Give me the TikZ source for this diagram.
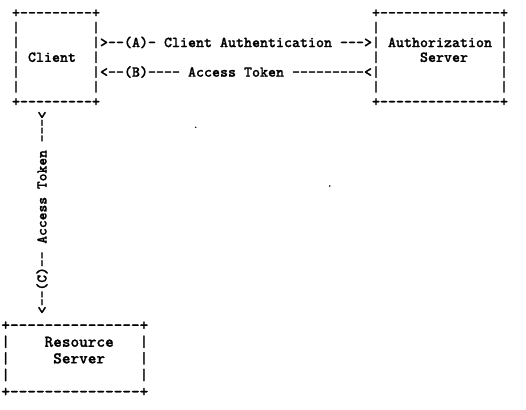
\documentclass[tikz,border=0pt]{standalone}
\usepackage{fontspec}
\setmonofont{lmmonolt10-bold}[Extension=.otf, FakeBold=1]
\usetikzlibrary{positioning,calc}

\tikzset{
  box/.style={font=\ttfamily\fontsize{15.24}{14.8}\selectfont, align=left, inner sep=0pt, outer sep=0pt},
  bigbox/.style={box, font=\ttfamily\fontsize{16.46}{16.6}\selectfont},
  flow/.style={font=\ttfamily\fontsize{15.24}{14.8}\selectfont, inner sep=0pt, outer sep=0pt},
}

\begin{document}
\begin{tikzpicture}[x=1pt,y=-1pt]
\useasboundingbox (0,0) rectangle (526,409);

% the three boxes (base = baseline of the last line)
\node (client) [box, anchor=base west] at (12,106.3)
  {+---------+\\|~~~~~~~~~|\\|~~~~~~~~~|\\|~Client~~|\\|~~~~~~~~~|\\|~~~~~~~~~|\\+---------+};
\node (authz) [box, anchor=base west] at (372,106.3)
  {+---------------+\\|~~~~~~~~~~~~~~~|\\|~Authorization~|\\|~~~~~Server~~~~|\\|~~~~~~~~~~~~~~~|\\|~~~~~~~~~~~~~~~|\\+---------------+};
\node (resource) [bigbox, anchor=base west] at (1.4,396.6)
  {+---------------+\\|~~~~Resource~~~|\\|~~~~~Server~~~~|\\|~~~~~~~~~~~~~~~|\\+---------------+};

% the flows
\node (lineA) [flow, anchor=base west] at ($(client.base east)+(0,-59.2)$) {>--(A)-~Client~Authentication~--->};
\node (lineB) [flow, anchor=base west] at ($(client.base east)+(0,-29.6)$) {<--(B)----~Access~Token~---------<};
\node (lineC) [flow, font=\ttfamily\fontsize{14.86}{14.86}\selectfont, rotate=90] at (42,212.5) {<--(C)--~Access~Token~---<};

\fill (195.7,127.3) circle (0.8);
\fill (329.7,186) circle (0.8);

\end{tikzpicture}
\end{document}
